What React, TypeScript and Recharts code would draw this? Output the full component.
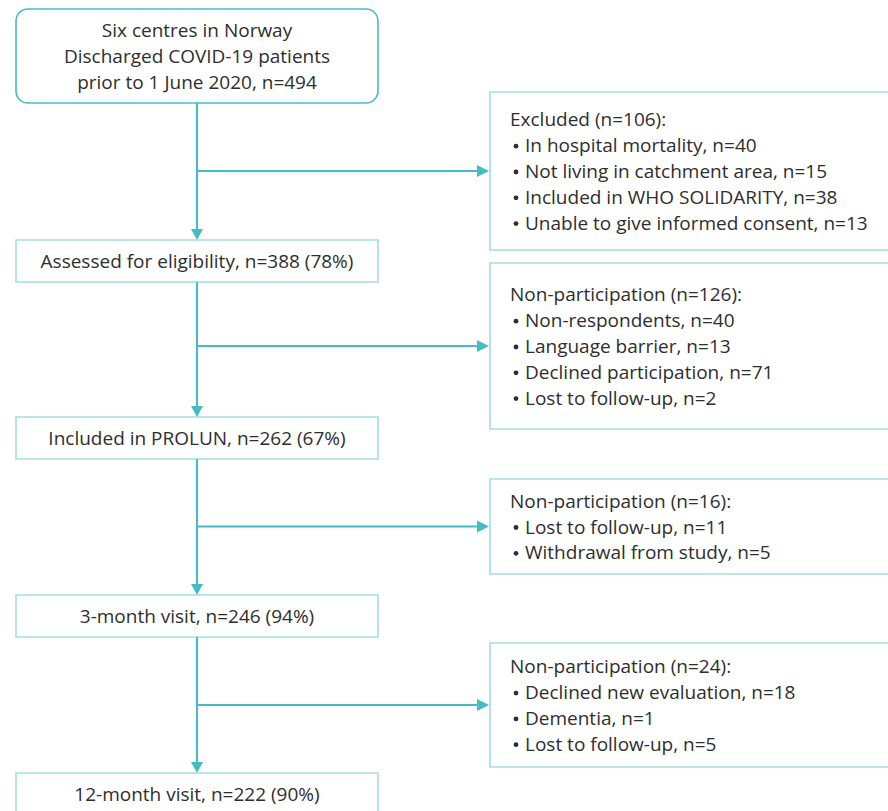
import React from "react";
import {
  ComposedChart,
  XAxis,
  YAxis,
  ReferenceArea,
  ReferenceLine,
  ReferenceDot,
} from "recharts";

// flow chart content
const mainSteps: string[][] = [
  ["Six centres in Norway", "Discharged COVID-19 patients", "prior to 1 June 2020, n=494"],
  ["Assessed for eligibility, n=388 (78%)"],
  ["Included in PROLUN, n=262 (67%)"],
  ["3-month visit, n=246 (94%)"],
  ["12-month visit, n=222 (90%)"],
];

const sideTitles = [
  "Excluded (n=106):",
  "Non-participation (n=126):",
  "Non-participation (n=16):",
  "Non-participation (n=24):",
];

const sideItems: string[][] = [
  [
    "In hospital mortality, n=40",
    "Not living in catchment area, n=15",
    "Included in WHO SOLIDARITY, n=38",
    "Unable to give informed consent, n=13",
  ],
  [
    "Non-respondents, n=40",
    "Language barrier, n=13",
    "Declined participation, n=71",
    "Lost to follow-up, n=2",
  ],
  ["Lost to follow-up, n=11", "Withdrawal from study, n=5"],
  ["Declined new evaluation, n=18", "Dementia, n=1", "Lost to follow-up, n=5"],
];

// layout (in pixel-like units of the hidden axes)
const W = 888;
const H = 811;
const mainX = [16, 378];
const mainY: [number, number][] = [
  [9, 103],
  [240, 282],
  [417, 459],
  [595, 637],
  [773, 815],
];
const sideX = [490, 900];
const sideY: [number, number][] = [
  [92, 250],
  [263, 429],
  [479, 574],
  [643, 767],
];
const stemX = 197;

const TEAL = "#45bcc4";
const LIGHT = "#a6dde1";
const TEXT = "#2e2e2e";
const FONT = "'Open Sans', 'Noto Sans', sans-serif";
const FS = 19;
const LH = 25.8;

const MainText = (lines: string[]) => (props: any) => {
  const { x, y, width, height } = props.viewBox;
  const cx = x + width / 2;
  const cy = y + height / 2;
  const top = cy - ((lines.length - 1) * LH) / 2;
  return (
    <text textAnchor="middle" fontFamily={FONT} fontSize={FS} fill={TEXT}>
      {lines.map((l, i) => (
        <tspan key={i} x={cx} y={top + i * LH} dominantBaseline="central">
          {l}
        </tspan>
      ))}
    </text>
  );
};

const SideText = (title: string, items: string[]) => (props: any) => {
  const { x, y, height } = props.viewBox;
  const n = items.length + 1;
  const top = y + height / 2 - ((n - 1) * LH) / 2;
  return (
    <g fontFamily={FONT} fontSize={FS} fill={TEXT}>
      <text x={x + 20} y={top} dominantBaseline="central">
        {title}
      </text>
      {items.map((it, i) => (
        <g key={i}>
          <circle cx={x + 26} cy={top + (i + 1) * LH + 1} r={2.4} fill={TEXT} />
          <text x={x + 35} y={top + (i + 1) * LH} dominantBaseline="central">
            {it}
          </text>
        </g>
      ))}
    </g>
  );
};

const DownArrow = (props: any) => {
  const { cx, cy } = props;
  return <path d={`M${cx - 6},${cy - 11} L${cx + 6},${cy - 11} L${cx},${cy} Z`} fill={TEAL} />;
};

const RightArrow = (props: any) => {
  const { cx, cy } = props;
  return <path d={`M${cx - 12},${cy - 6} L${cx - 12},${cy + 6} L${cx},${cy} Z`} fill={TEAL} />;
};

export default function App() {
  return (
    <div style={{ position: "absolute", left: 0, top: 0, background: "#fff" }}>
      <ComposedChart width={W} height={H} margin={{ top: 0, right: 0, bottom: 0, left: 0 }}>
        <XAxis type="number" dataKey="x" domain={[0, W]} hide allowDataOverflow />
        <YAxis type="number" dataKey="y" domain={[0, H]} reversed hide allowDataOverflow />

        {/* vertical stems between main boxes */}
        {mainY.slice(0, -1).map((r, i) => (
          <ReferenceLine
            key={`stem-${i}`}
            segment={[
              { x: stemX, y: r[1] },
              { x: stemX, y: mainY[i + 1][0] - 8 },
            ]}
            stroke={TEAL}
            strokeWidth={2}
            ifOverflow="visible"
          />
        ))}

        {/* horizontal branches to side boxes */}
        {sideY.map((r, i) => (
          <ReferenceLine
            key={`branch-${i}`}
            segment={[
              { x: stemX, y: (r[0] + r[1]) / 2 },
              { x: sideX[0] - 8, y: (r[0] + r[1]) / 2 },
            ]}
            stroke={TEAL}
            strokeWidth={2}
            ifOverflow="visible"
          />
        ))}

        {mainY.slice(1).map((r, i) => (
          <ReferenceDot key={`da-${i}`} x={stemX} y={r[0]} shape={DownArrow} ifOverflow="visible" />
        ))}
        {sideY.map((r, i) => (
          <ReferenceDot
            key={`ra-${i}`}
            x={sideX[0] - 1}
            y={(r[0] + r[1]) / 2}
            shape={RightArrow}
            ifOverflow="visible"
          />
        ))}

        {/* main boxes */}
        {mainSteps.map((lines, i) => (
          <ReferenceArea
            key={`main-${i}`}
            x1={mainX[0]}
            x2={mainX[1]}
            y1={mainY[i][0]}
            y2={mainY[i][1]}
            fill="#fff"
            fillOpacity={1}
            stroke={i === 0 ? TEAL : LIGHT}
            strokeWidth={1.6}
            radius={i === 0 ? 12 : 0}
            ifOverflow="visible"
            label={{ content: MainText(lines) }}
          />
        ))}

        {/* side boxes */}
        {sideTitles.map((t, i) => (
          <ReferenceArea
            key={`side-${i}`}
            x1={sideX[0]}
            x2={sideX[1]}
            y1={sideY[i][0]}
            y2={sideY[i][1]}
            fill="#fff"
            fillOpacity={1}
            stroke={LIGHT}
            strokeWidth={1.6}
            ifOverflow="visible"
            label={{ content: SideText(t, sideItems[i]) }}
          />
        ))}
      </ComposedChart>
    </div>
  );
}
